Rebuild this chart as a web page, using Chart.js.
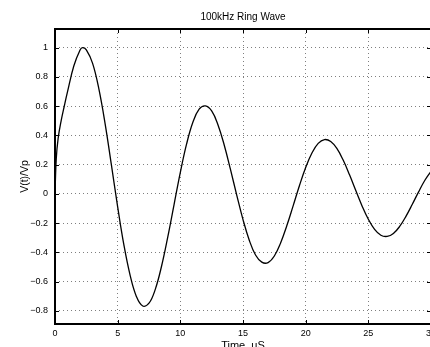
<!DOCTYPE html>
<html>
<head>
<meta charset="utf-8">
<script src="https://cdn.jsdelivr.net/npm/chart.js@4.4.1/dist/chart.umd.min.js"></script>
<style>
html, body { margin: 0; padding: 0; background: #fff; overflow: hidden; width: 430px; height: 347px; }
</style>
</head>
<body>
<canvas id="ringChart" width="432" height="347"></canvas>
<script>
// values
const timeUs = [0, 0.1, 0.25, 0.5, 0.75, 1, 1.5, 2, 2.2, 2.5, 3, 3.5, 4, 4.5, 5, 5.5, 6, 6.5, 7, 7.5,
    8, 8.5, 9, 9.5, 10, 10.5, 11, 11.5, 12, 12.5, 13, 13.5, 14, 14.5, 15, 15.5, 16, 16.5, 17,
    17.5, 18, 18.5, 19, 19.5, 20, 20.5, 21, 21.5, 22, 22.5, 23, 23.5, 24, 24.5, 25, 25.5, 26,
    26.5, 27, 27.5, 28, 28.5, 29, 29.5, 30];
const voltage = [0, 0.24, 0.38, 0.505, 0.605, 0.7, 0.875, 0.985, 1.0, 0.985, 0.893, 0.719, 0.48, 0.199,
    -0.088, -0.35, -0.558, -0.702, -0.766, -0.747, -0.652, -0.494, -0.293, -0.072, 0.148, 0.342, 0.49, 0.58,
    0.602, 0.568, 0.474, 0.335, 0.168, -0.008, -0.175, -0.316, -0.417, -0.466, -0.469, -0.424,
    -0.335, -0.216, -0.081, 0.056, 0.181, 0.28, 0.346, 0.372, 0.359, 0.31, 0.23, 0.131, 0.023,
    -0.082, -0.173, -0.242, -0.282, -0.29, -0.27, -0.222, -0.153, -0.072, 0.013, 0.092, 0.155];
const xTicks = [0, 5, 10, 15, 20, 25, 30];
const yTicks = [-0.8, -0.6, -0.4, -0.2, 0, 0.2, 0.4, 0.6, 0.8, 1];

const fontFamily = '"Liberation Sans", Arial, Helvetica, sans-serif';
Chart.defaults.font.family = fontFamily;
Chart.defaults.color = '#000';

function fmt(v) {
    if (v === 0) return '0';
    return (v < 0 ? '\u2212' : '') + Math.abs(v);
}

// box round the plot, with short ticks pointing inwards on all four sides
const framePlugin = {
    id: 'frame',
    afterDatasetsDraw(chart) {
        const { ctx, chartArea: a, scales: { x, y } } = chart;
        ctx.save();
        ctx.strokeStyle = '#000';
        ctx.lineWidth = 1;
        ctx.beginPath();
        xTicks.forEach(v => {
            const px = Math.round(x.getPixelForValue(v)) + 0.5;
            ctx.moveTo(px, a.bottom); ctx.lineTo(px, a.bottom - 4);
            ctx.moveTo(px, a.top); ctx.lineTo(px, a.top + 4);
        });
        yTicks.forEach(v => {
            const py = Math.round(y.getPixelForValue(v)) + 0.5;
            ctx.moveTo(a.left, py); ctx.lineTo(a.left + 4, py);
            ctx.moveTo(a.right, py); ctx.lineTo(a.right - 4, py);
        });
        ctx.stroke();
        ctx.lineWidth = 2;
        ctx.strokeRect(a.left, a.top, a.right - a.left, a.bottom - a.top);
        ctx.restore();
    }
};

const ctx = document.getElementById('ringChart').getContext('2d');
const ringChart = new Chart(ctx, {
    type: 'line',
    data: {
        datasets: [{
            data: timeUs.map((t, i) => ({ x: t, y: voltage[i] })),
            borderColor: '#000',
            borderWidth: 1.3,
            pointRadius: 0,
            fill: false,
            tension: 0.4
        }]
    },
    options: {
        responsive: false,
        animation: false,
        layout: { padding: { left: 0, right: 1, top: 0, bottom: 0 } },
        plugins: {
            legend: { display: false },
            tooltip: { enabled: false },
            title: {
                display: true,
                fullSize: false,
                text: '100kHz Ring Wave',
                color: '#000',
                font: { size: 10, weight: 'normal' },
                padding: { top: 11, bottom: 6 }
            }
        },
        scales: {
            x: {
                type: 'linear',
                min: 0,
                max: 30,
                afterBuildTicks: s => { s.ticks = xTicks.map(v => ({ value: v })); },
                afterFit: s => { s.height = 23; s.paddingLeft = 0; s.paddingRight = 0; },
                grid: { color: 'rgba(0,0,0,0.5)', lineWidth: 1, drawTicks: false },
                border: { display: false, dash: [1, 3] },
                ticks: { padding: 4.5, maxRotation: 0, font: { size: 9 }, callback: v => fmt(v) },
                title: { display: true, text: 'Time, uS', font: { size: 11 }, padding: { top: 0, bottom: -6 } }
            },
            y: {
                type: 'linear',
                min: -0.889,
                max: 1.128,
                afterBuildTicks: s => { s.ticks = yTicks.map(v => ({ value: v })); },
                afterFit: s => { s.width = 55; s.paddingTop = 0; s.paddingBottom = 0; },
                grid: { color: 'rgba(0,0,0,0.5)', lineWidth: 1, drawTicks: false },
                border: { display: false, dash: [1, 3] },
                ticks: { padding: 7, font: { size: 9 }, callback: v => fmt(v) },
                title: { display: true, text: 'V(t)/Vp', font: { size: 10.5 }, padding: { top: 19, bottom: 0 } }
            }
        }
    },
    plugins: [framePlugin]
});
</script>
</body>
</html>
